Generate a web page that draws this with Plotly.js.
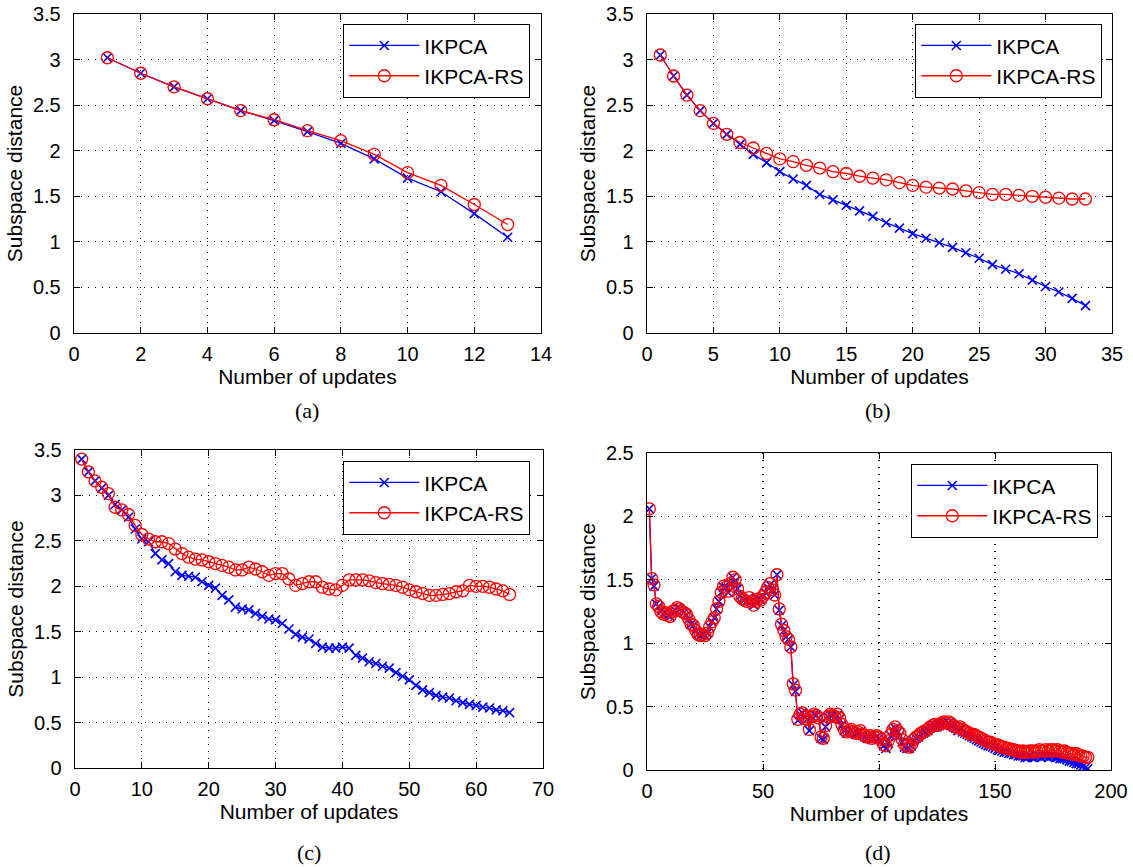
<!DOCTYPE html>
<html>
<head>
<meta charset="utf-8">
<script src="https://cdn.plot.ly/plotly-3.0.1.min.js"></script>
<style>html,body{margin:0;padding:0;background:#fff;}#chart{width:1133px;height:867px;}</style>
</head>
<body>
<div id="chart"></div>
<script>
// ---------- data ----------
const seriesNames = ["IKPCA", "IKPCA-RS"];
const panelLabels = ["(a)", "(b)", "(c)", "(d)"];
const xTitle = "Number of updates";
const yTitle = "Subspace distance";

// (a)
const a_ikpca   = [3.02, 2.85, 2.70, 2.57, 2.44, 2.33, 2.21, 2.08, 1.91, 1.70, 1.55, 1.31, 1.05];
const a_ikpcaRS = [3.02, 2.85, 2.70, 2.57, 2.44, 2.34, 2.22, 2.11, 1.96, 1.76, 1.62, 1.41, 1.19];

// (b)
const b_ikpca   = [3.05, 2.82, 2.61, 2.44, 2.30, 2.18, 2.07, 1.96, 1.87, 1.77, 1.69, 1.62, 1.52, 1.46, 1.40, 1.34, 1.28,
                   1.21, 1.15, 1.09, 1.04, 0.99, 0.94, 0.88, 0.82, 0.75, 0.70, 0.65, 0.58, 0.51, 0.45, 0.38, 0.30];
const b_ikpcaRS = [3.05, 2.82, 2.61, 2.44, 2.30, 2.18, 2.09, 2.03, 1.97, 1.91, 1.88, 1.84, 1.81, 1.77, 1.75, 1.72, 1.70,
                   1.68, 1.65, 1.62, 1.60, 1.59, 1.58, 1.56, 1.54, 1.52, 1.52, 1.51, 1.50, 1.49, 1.48, 1.47, 1.47];

// (c)
const c_ikpca   = [3.40, 3.26, 3.16, 3.08, 3.00, 2.90, 2.84, 2.76, 2.63, 2.52, 2.49, 2.36, 2.29, 2.25, 2.16, 2.12, 2.11,
                   2.10, 2.05, 2.01, 1.98, 1.90, 1.85, 1.77, 1.75, 1.74, 1.70, 1.67, 1.64, 1.63, 1.59, 1.53, 1.47, 1.44,
                   1.42, 1.37, 1.33, 1.32, 1.32, 1.33, 1.32, 1.24, 1.21, 1.17, 1.15, 1.12, 1.10, 1.05, 1.01, 0.97, 0.91,
                   0.86, 0.83, 0.80, 0.78, 0.77, 0.74, 0.72, 0.70, 0.69, 0.67, 0.66, 0.64, 0.63, 0.61];
const c_ikpcaRS = [3.40, 3.26, 3.16, 3.09, 3.02, 2.87, 2.84, 2.79, 2.67, 2.57, 2.52, 2.49, 2.49, 2.47, 2.41, 2.36, 2.32,
                   2.30, 2.29, 2.27, 2.25, 2.23, 2.21, 2.18, 2.18, 2.21, 2.19, 2.16, 2.12, 2.14, 2.14, 2.08, 2.01, 2.03,
                   2.05, 2.05, 1.99, 1.97, 1.96, 2.01, 2.07, 2.07, 2.07, 2.06, 2.04, 2.03, 2.02, 2.01, 1.99, 1.96, 1.94,
                   1.92, 1.90, 1.90, 1.91, 1.92, 1.94, 1.95, 2.01, 2.00, 2.00, 1.99, 1.97, 1.95, 1.91];

// (d)
const d_ikpcaRS = [2.06, 1.51, 1.46, 1.31, 1.29, 1.25, 1.23, 1.24, 1.22, 1.21, 1.25, 1.26, 1.28, 1.27, 1.25, 1.24, 1.23, 1.19, 1.15, 1.14,
                   1.10, 1.07, 1.06, 1.07, 1.06, 1.08, 1.13, 1.17, 1.20, 1.27, 1.33, 1.40, 1.45, 1.44, 1.41, 1.47, 1.52, 1.50, 1.43, 1.37,
                   1.35, 1.34, 1.33, 1.36, 1.33, 1.30, 1.33, 1.35, 1.34, 1.37, 1.40, 1.44, 1.47, 1.42, 1.38, 1.54, 1.27, 1.15, 1.10, 1.05,
                   1.03, 0.97, 0.68, 0.63, 0.40, 0.44, 0.45, 0.42, 0.40, 0.32, 0.42, 0.44, 0.43, 0.41, 0.26, 0.25, 0.35, 0.42, 0.44, 0.43,
                   0.42, 0.44, 0.41, 0.36, 0.32, 0.30, 0.31, 0.32, 0.30, 0.29, 0.30, 0.31, 0.28, 0.27, 0.26, 0.27, 0.25, 0.26, 0.27, 0.26,
                   0.24, 0.20, 0.19, 0.23, 0.28, 0.32, 0.34, 0.31, 0.29, 0.24, 0.20, 0.19, 0.18, 0.20, 0.24, 0.26, 0.27, 0.29, 0.30, 0.31,
                   0.32, 0.34, 0.35, 0.36, 0.35, 0.36, 0.37, 0.38, 0.37, 0.38, 0.37, 0.35, 0.34, 0.33, 0.34, 0.32, 0.31, 0.30, 0.29, 0.28,
                   0.28, 0.27, 0.26, 0.25, 0.24, 0.23, 0.22, 0.22, 0.21, 0.20, 0.20, 0.19, 0.18, 0.18, 0.17, 0.17, 0.16, 0.16, 0.15, 0.15,
                   0.14, 0.15, 0.14, 0.14, 0.15, 0.15, 0.14, 0.15, 0.16, 0.15, 0.15, 0.16, 0.15, 0.16, 0.16, 0.15, 0.16, 0.15, 0.14, 0.15,
                   0.14, 0.13, 0.13, 0.12, 0.13, 0.12, 0.11, 0.11, 0.10, 0.10];
const d_ikpca   = [2.06, 1.51, 1.45, 1.31, 1.29, 1.25, 1.23, 1.24, 1.22, 1.21, 1.25, 1.26, 1.28, 1.27, 1.25, 1.24, 1.22, 1.19, 1.15, 1.14,
                   1.10, 1.07, 1.06, 1.07, 1.06, 1.08, 1.13, 1.17, 1.20, 1.27, 1.33, 1.40, 1.44, 1.44, 1.40, 1.47, 1.52, 1.49, 1.43, 1.37,
                   1.35, 1.34, 1.33, 1.36, 1.33, 1.30, 1.33, 1.35, 1.34, 1.37, 1.40, 1.44, 1.46, 1.42, 1.38, 1.54, 1.26, 1.14, 1.10, 1.05,
                   1.03, 0.97, 0.67, 0.62, 0.39, 0.44, 0.45, 0.42, 0.40, 0.31, 0.42, 0.44, 0.43, 0.41, 0.25, 0.24, 0.34, 0.42, 0.43, 0.43,
                   0.41, 0.43, 0.40, 0.35, 0.31, 0.29, 0.30, 0.31, 0.29, 0.28, 0.29, 0.30, 0.27, 0.26, 0.25, 0.26, 0.24, 0.25, 0.26, 0.25,
                   0.23, 0.19, 0.17, 0.21, 0.27, 0.31, 0.33, 0.30, 0.27, 0.22, 0.18, 0.17, 0.17, 0.19, 0.23, 0.25, 0.26, 0.28, 0.29, 0.30,
                   0.31, 0.33, 0.34, 0.35, 0.34, 0.35, 0.36, 0.37, 0.36, 0.37, 0.35, 0.34, 0.33, 0.31, 0.32, 0.30, 0.29, 0.28, 0.27, 0.26,
                   0.25, 0.24, 0.23, 0.22, 0.21, 0.20, 0.19, 0.19, 0.18, 0.17, 0.16, 0.16, 0.15, 0.14, 0.14, 0.13, 0.13, 0.12, 0.12, 0.11,
                   0.11, 0.11, 0.10, 0.10, 0.11, 0.10, 0.10, 0.11, 0.11, 0.10, 0.11, 0.11, 0.10, 0.11, 0.11, 0.10, 0.10, 0.09, 0.09, 0.09,
                   0.08, 0.07, 0.07, 0.06, 0.05, 0.05, 0.04, 0.03, 0.02, 0.01];

// axis ranges / ticks per panel
const xRanges = [[0, 14], [0, 35], [0, 70], [0, 200]];
const xDticks = [2, 5, 10, 50];
const yRanges = [[0, 3.5], [0, 3.5], [0, 3.5], [0, 2.5]];

// ---------- build ----------
function updates(n) { const r = []; for (let i = 1; i <= n; i++) r.push(i); return r; }

const panels = [
  [a_ikpca, a_ikpcaRS],
  [b_ikpca, b_ikpcaRS],
  [c_ikpca, c_ikpcaRS],
  [d_ikpca, d_ikpcaRS]
];

const FONT = "Liberation Sans, Arial, Helvetica, sans-serif";
const traces = [];
panels.forEach((p, i) => {
  const sfx = i === 0 ? "" : String(i + 1);
  const lg = i === 0 ? "legend" : "legend" + (i + 1);
  const x = updates(p[0].length);
  traces.push({
    x: x, y: p[0], name: seriesNames[0], type: "scatter", mode: "lines+markers",
    xaxis: "x" + sfx, yaxis: "y" + sfx, legend: lg,
    line: {color: "#0000ff", width: 1.3},
    marker: {symbol: "x-thin-open", size: 9, color: "#0000ff", line: {color: "#0000ff", width: 1.6}}
  });
  traces.push({
    x: x, y: p[1], name: seriesNames[1], type: "scatter", mode: "lines+markers",
    xaxis: "x" + sfx, yaxis: "y" + sfx, legend: lg,
    line: {color: "#ff0000", width: 1.3},
    marker: {symbol: "circle-open", size: 12, color: "#ff0000", line: {color: "#ff0000", width: 1.3}}
  });
});

const W = 1133, H = 867;
const px = v => v / W, py = v => 1 - v / H;
const xDomains = [[74, 541], [647, 1112], [75, 543], [647, 1111]];
const yDomains = [[333, 14], [333, 14], [768, 450], [770, 453]];
const legendPos = [[530, 24], [1102, 24], [530, 461], [1098, 464]];
const captionPos = [[307, 411], [878, 411], [309, 852], [878, 852]];

const layout = {
  width: W, height: H,
  margin: {l: 0, r: 0, t: 0, b: 0},
  paper_bgcolor: "#fff", plot_bgcolor: "#fff",
  font: {family: FONT, color: "#000", size: 20},
  showlegend: true,
  annotations: []
};

function axisCommon() {
  return {
    showline: true, linecolor: "#000", linewidth: 1.3, mirror: "ticks",
    ticks: "inside", ticklen: 6, tickcolor: "#000", tickwidth: 1,
    showgrid: true, gridcolor: "#000", gridwidth: 1.2, griddash: "1px,6px",
    zeroline: false, tickfont: {family: FONT, size: 20, color: "#000"},
    fixedrange: true
  };
}

for (let i = 0; i < 4; i++) {
  const sfx = i === 0 ? "" : String(i + 1);
  const xa = axisCommon();
  Object.assign(xa, {
    domain: [px(xDomains[i][0]), px(xDomains[i][1])],
    anchor: "y" + sfx, range: xRanges[i], tickmode: "linear", tick0: 0, dtick: xDticks[i],
    ticklabelstandoff: 3,
    title: {text: xTitle, font: {family: FONT, size: 21, color: "#000"}, standoff: 2}
  });
  const ya = axisCommon();
  Object.assign(ya, {
    domain: [py(yDomains[i][0]), py(yDomains[i][1])],
    anchor: "x" + sfx, range: yRanges[i], tickmode: "linear", tick0: 0, dtick: 0.5,
    ticklabelstandoff: 8,
    title: {text: yTitle, font: {family: FONT, size: 21, color: "#000"}, standoff: 4}
  });
  layout["xaxis" + sfx] = xa;
  layout["yaxis" + sfx] = ya;

  const lg = i === 0 ? "legend" : "legend" + (i + 1);
  layout[lg] = {
    x: px(legendPos[i][0]), y: py(legendPos[i][1]), xanchor: "right", yanchor: "top",
    xref: "paper", yref: "paper",
    bgcolor: "#fff", bordercolor: "#000", borderwidth: 1.3,
    font: {family: FONT, size: 21, color: "#000"},
    itemwidth: 70, tracegroupgap: 0, traceorder: "normal"
  };

  layout.annotations.push({
    text: panelLabels[i], xref: "paper", yref: "paper",
    x: px(captionPos[i][0]), y: py(captionPos[i][1]), xanchor: "center", yanchor: "middle",
    showarrow: false, font: {family: "Liberation Serif, Times New Roman, serif", size: 22, color: "#000"}
  });
}

Plotly.newPlot("chart", traces, layout, {staticPlot: true, displayModeBar: false});
</script>
</body>
</html>
